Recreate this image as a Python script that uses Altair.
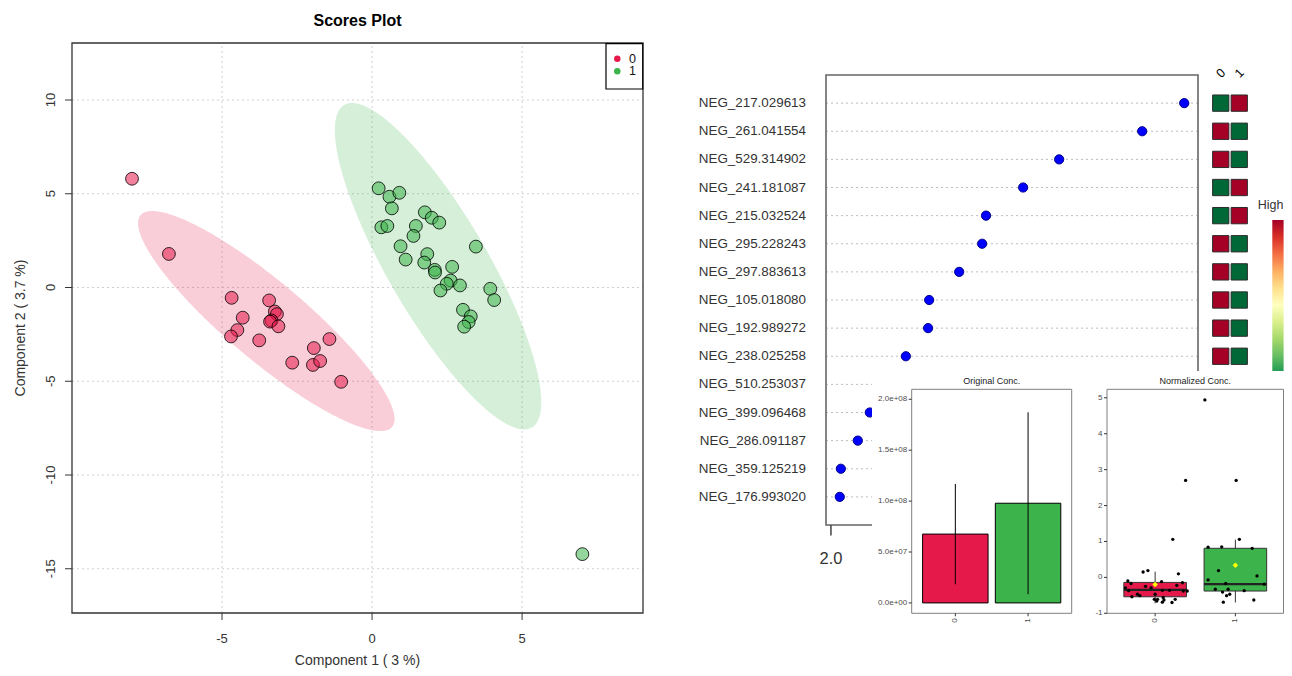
import numpy as np
import pandas as pd
import altair as alt

RED = "#E6194B"
GREEN = "#3CB44B"
FONT = "Liberation Sans"

# ---------------- data: scores plot ----------------
score_groups = ["0", "1"]
score0_x = [-8.00, -6.77, -4.68, -4.31, -4.49, -4.70, -3.76, -3.43, -3.24, -3.17,
            -3.35, -3.40, -3.12, -2.66, -1.94, -1.97, -1.73, -1.42, -1.03]
score0_y = [5.80, 1.79, -0.55, -1.61, -2.27, -2.61, -2.82, -0.69, -1.28, -1.42,
            -1.76, -1.82, -2.07, -4.01, -3.23, -4.13, -3.92, -2.75, -5.03]
score1_x = [0.22, 0.58, 0.91, 0.66, 0.31, 0.51, 1.76, 1.99, 2.24, 1.46,
            1.38, 0.95, 1.12, 3.46, 1.84, 1.74, 2.09, 2.10, 2.67, 2.62,
            2.49, 2.28, 2.93, 3.94, 4.07, 3.03, 3.29, 3.22, 3.07, 7.01]
score1_y = [5.29, 4.84, 5.05, 4.22, 3.21, 3.28, 4.01, 3.72, 3.46, 3.28,
            2.75, 2.20, 1.49, 2.18, 1.78, 1.33, 0.94, 0.80, 1.10, 0.37,
            0.20, -0.16, 0.11, -0.07, -0.67, -1.19, -1.54, -1.84, -2.09, -14.22]
# 95% confidence ellipses (centre, half extents, correlation)
ell_cx = [-3.525, 2.20]
ell_cy = [-1.79, 1.135]
ell_hx = [4.275, 3.44]
ell_hy = [5.87, 8.705]
ell_rho = [-0.889, -0.833]
score_ticks_x = [-5, 0, 5]
score_ticks_y = [-15, -10, -5, 0, 5, 10]

# ---------------- data: VIP scores ----------------
vip_features = ["NEG_217.029613", "NEG_261.041554", "NEG_529.314902", "NEG_241.181087",
                "NEG_215.032524", "NEG_295.228243", "NEG_297.883613", "NEG_105.018080",
                "NEG_192.989272", "NEG_238.025258", "NEG_510.253037", "NEG_399.096468",
                "NEG_286.091187", "NEG_359.125219", "NEG_176.993020"]
vip_scores = [3.000, 2.881, 2.646, 2.544, 2.439, 2.428, 2.363, 2.278, 2.275, 2.212,
              2.153, 2.110, 2.076, 2.028, 2.025]
vip_ticks = [2.0]
# 1 = group "0" high (red) / group "1" low (green)
heat_group0_high = [0, 1, 1, 0, 0, 1, 1, 1, 1, 1, 1, 1, 1, 1, 1]
heat_columns = ["0", "1"]
rdylgn = ["#a50026", "#d73027", "#f46d43", "#fdae61", "#fee08b", "#ffffbf",
          "#d9ef8b", "#a6d96a", "#66bd63", "#1a9850", "#006837"]

# ---------------- data: original concentration ----------------
conc_groups = ["0", "1"]
conc_mean = [6.76e7, 9.79e7]
conc_sd = [4.93e7, 8.93e7]
conc_ticks = [0, 5e7, 1e8, 1.5e8, 2e8]

# ---------------- data: normalized concentration ----------------
box_q1 = [-0.54, -0.38]
box_med = [-0.35, -0.19]
box_q3 = [-0.14, 0.81]
box_lo = [-0.72, -0.70]
box_hi = [0.16, 1.05]
box_mean = [-0.20, 0.34]
norm_ticks = [-1, 0, 1, 2, 3, 4, 5]
jit0_off = [-0.37, -0.34, -0.30, -0.33, -0.29, -0.22, -0.19, -0.15, -0.09, -0.12,
            -0.05, 0.00, -0.01, 0.03, 0.08, 0.09, 0.10, 0.11, 0.09, 0.18,
            0.22, 0.21, 0.25, 0.27, 0.29, 0.34, 0.35, 0.40, 0.38, 0.02]
jit0_val = [-0.29, -0.10, -0.17, -0.37, -0.54, -0.47, -0.51, 0.15, 0.19, -0.25,
            -0.29, -0.47, -0.61, -0.61, -0.12, -0.36, -0.56, -0.63, -0.69, -0.36,
            1.06, -0.70, -0.61, -0.22, 0.10, -0.15, -0.38, -0.38, 2.70, -0.66]
jit1_off = [-0.38, 0.01, 0.05, -0.34, -0.17, 0.21, -0.21, 0.27, -0.34, -0.12,
            0.36, -0.25, -0.09, -0.16, -0.07, -0.11, 0.11, -0.15, 0.23]
jit1_val = [4.94, 2.70, 1.06, 0.84, 0.85, 0.81, 0.19, 0.04, -0.07, -0.17,
            -0.19, -0.33, -0.33, -0.41, -0.47, -0.51, -0.37, -0.69, -0.63]

# ---------------- layout (pixels inside the chart) ----------------
W, H = 1276, 660
SC_XDOM, SC_XRNG = [-10.0, 9.03], [64, 635]
SC_YDOM, SC_YRNG = [-17.36, 13.04], [605, 35]
VIP_XDOM, VIP_XRNG = [1.986, 3.039], [818, 1190]
VIP_YDOM, VIP_YRNG = [0, 16], [517, 67]
HM_XDOM, HM_XRNG = [0, 2], [1203.5, 1240.5]
CB_XDOM, CB_XRNG = [0, 1], [1264.3, 1275.6]
CB_YDOM, CB_YRNG = [0, 1], [382, 212]
INSET = (864, 1276, 363, 660)
OC_XDOM, OC_XRNG = [-0.6, 1.6], [903.7, 1063.7]
OC_YDOM, OC_YRNG = [-1.0196e7, 2.098e8], [605.3, 381.3]
NC_XDOM, NC_XRNG = [-0.6, 1.6], [1099, 1275.5]
NC_YDOM, NC_YRNG = [-1.0, 5.237], [605.3, 381.3]


def S(dom, rng):
    return alt.Scale(domain=list(dom), range=list(rng), nice=False, zero=False)


def inv(p, dom, rng):
    """pixel -> data value on a panel scale (for placing guide text)."""
    return dom[0] + (p - rng[0]) * (dom[1] - dom[0]) / (rng[1] - rng[0])


def X(f, s):
    return alt.X(f, scale=s, axis=None)


def Y(f, s):
    return alt.Y(f, scale=s, axis=None)


def frame(xdom, ydom, sx, sy, color, width):
    df = pd.DataFrame({"x0": [xdom[0]], "x1": [xdom[1]], "y0": [ydom[0]], "y1": [ydom[1]]})
    return alt.Chart(df).mark_rect(fill="transparent", stroke=color, strokeWidth=width).encode(
        x=X("x0:Q", sx), x2="x1:Q", y=Y("y0:Q", sy), y2="y1:Q")


def vticks(vals, y0, y1, sx, sy, **mk):
    df = pd.DataFrame({"v": vals, "a": y0, "b": y1})
    return alt.Chart(df).mark_rule(**mk).encode(x=X("v:Q", sx), y=Y("a:Q", sy), y2="b:Q")


def hticks(vals, x0, x1, sx, sy, **mk):
    df = pd.DataFrame({"v": vals, "a": x0, "b": x1})
    return alt.Chart(df).mark_rule(**mk).encode(y=Y("v:Q", sy), x=X("a:Q", sx), x2="b:Q")


def texts(xs, ys, labels, sx, sy, **mk):
    df = pd.DataFrame({"x": xs, "y": ys, "t": labels})
    return alt.Chart(df).mark_text(**mk).encode(x=X("x:Q", sx), y=Y("y:Q", sy), text="t:N")


# ================= Scores plot =================
sx, sy = S(SC_XDOM, SC_XRNG), S(SC_YDOM, SC_YRNG)
grp_scale = alt.Scale(domain=score_groups, range=[RED, GREEN])
grid_style = dict(color="#cfcfcf", strokeDash=[2, 3], strokeWidth=1)
vgrid = vticks(score_ticks_x, SC_YDOM[0], SC_YDOM[1], sx, sy, **grid_style)
hgrid = hticks(score_ticks_y, SC_XDOM[0], SC_XDOM[1], sx, sy, **grid_style)

ell_rows = []
theta = np.linspace(np.pi, 0, 241)
for g, cx, cy, hx, hy, r in zip(score_groups, ell_cx, ell_cy, ell_hx, ell_hy, ell_rho):
    u = np.cos(theta)
    s = np.sqrt(np.clip(1 - u * u, 0, None))
    k = np.sqrt(1 - r * r)
    for ui, si in zip(u, s):
        ell_rows.append({"grp": g, "x": cx + hx * ui,
                         "ylo": cy + hy * (r * ui - k * si),
                         "yhi": cy + hy * (r * ui + k * si)})
ellipses = alt.Chart(pd.DataFrame(ell_rows)).mark_area(opacity=0.21).encode(
    x=X("x:Q", sx), y=alt.Y("ylo:Q", scale=sy, axis=None, stack=None), y2="yhi:Q",
    color=alt.Color("grp:N", scale=grp_scale, legend=None))

df_scores = pd.DataFrame({
    "grp": ["0"] * len(score0_x) + ["1"] * len(score1_x),
    "x": score0_x + score1_x, "y": score0_y + score1_y})
points = alt.Chart(df_scores).mark_point(
    filled=True, size=165, stroke="black", strokeWidth=1, fillOpacity=0.55, strokeOpacity=0.8
).encode(x=X("x:Q", sx), y=Y("y:Q", sy),
         color=alt.Color("grp:N", scale=grp_scale, legend=None))

ink = "#333333"
sc_guides = [
    vticks(score_ticks_x, SC_YDOM[0], inv(612, SC_YDOM, SC_YRNG), sx, sy, color=ink, strokeWidth=1),
    hticks(score_ticks_y, SC_XDOM[0], inv(57, SC_XDOM, SC_XRNG), sx, sy, color=ink, strokeWidth=1),
    texts(score_ticks_x, inv(630.7, SC_YDOM, SC_YRNG), [str(v) for v in score_ticks_x], sx, sy,
          font=FONT, fontSize=13, color=ink, align="center", baseline="middle"),
    texts(inv(42.7, SC_XDOM, SC_XRNG), score_ticks_y, [str(v) for v in score_ticks_y], sx, sy,
          font=FONT, fontSize=13, color=ink, align="center", baseline="middle", angle=270),
    texts([sum(SC_XDOM) / 2], [inv(657, SC_YDOM, SC_YRNG)], ["Component 1 ( 3 %)"], sx, sy,
          font=FONT, fontSize=14, color=ink, align="center", baseline="alphabetic"),
    texts([inv(12.8, SC_XDOM, SC_XRNG)], [sum(SC_YDOM) / 2], ["Component 2 ( 3.7 %)"], sx, sy,
          font=FONT, fontSize=14, color=ink, align="center", baseline="middle", angle=270),
    texts([sum(SC_XDOM) / 2], [inv(12.8, SC_YDOM, SC_YRNG)], ["Scores Plot"], sx, sy,
          font=FONT, fontSize=16, fontWeight="bold", color="black", align="center", baseline="middle"),
]
# legend box
lg_box = pd.DataFrame({"x0": [inv(598, SC_XDOM, SC_XRNG)], "x1": [inv(634.7, SC_XDOM, SC_XRNG)],
                       "y0": [inv(81, SC_YDOM, SC_YRNG)], "y1": [inv(35.7, SC_YDOM, SC_YRNG)]})
legend_box = alt.Chart(lg_box).mark_rect(fill="white", stroke="black", strokeWidth=1.2).encode(
    x=X("x0:Q", sx), x2="x1:Q", y=Y("y0:Q", sy), y2="y1:Q")
lg_y = [inv(50.7, SC_YDOM, SC_YRNG), inv(63.3, SC_YDOM, SC_YRNG)]
legend_dots = alt.Chart(pd.DataFrame({"grp": score_groups, "x": inv(609.3, SC_XDOM, SC_XRNG),
                                      "y": lg_y})).mark_circle(size=42, opacity=1).encode(
    x=X("x:Q", sx), y=Y("y:Q", sy), color=alt.Color("grp:N", scale=grp_scale, legend=None))
legend_txt = texts(inv(621, SC_XDOM, SC_XRNG), lg_y, score_groups, sx, sy,
                   font=FONT, fontSize=12.5, color="#111", align="left", baseline="middle")

scores = alt.layer(vgrid, hgrid, ellipses, points, frame(SC_XDOM, SC_YDOM, sx, sy, "#333", 1.3),
                   *sc_guides, legend_box, legend_dots, legend_txt)

# ================= VIP dot plot =================
vx, vy = S(VIP_XDOM, VIP_XRNG), S(VIP_YDOM, VIP_YRNG)
n = len(vip_features)
vip_rows = [n - i for i in range(n)]
df_vip = pd.DataFrame({"feature": vip_features, "vip": vip_scores, "row": vip_rows,
                       "lo": VIP_XDOM[0], "hi": VIP_XDOM[1]})
vip_lines = alt.Chart(df_vip).mark_rule(color="#bdbdbd", strokeDash=[2, 3], strokeWidth=1).encode(
    x=X("lo:Q", vx), x2="hi:Q", y=Y("row:Q", vy))
vip_pts = alt.Chart(df_vip).mark_point(filled=True, size=85, fill="#0000ff", stroke="#00008b",
                                       strokeWidth=1, opacity=1).encode(
    x=X("vip:Q", vx), y=Y("row:Q", vy))
vip_labels = alt.Chart(df_vip).mark_text(font=FONT, fontSize=13.4, color=ink, align="right",
                                          baseline="middle", dx=-20).encode(
    x=X("lo:Q", vx), y=Y("row:Q", vy), text="feature:N")
vip_xt = vticks(vip_ticks, VIP_YDOM[0], inv(527.5, VIP_YDOM, VIP_YRNG), vx, vy,
                color="#444", strokeWidth=1.5)
vip_xl = texts(vip_ticks, inv(550.8, VIP_YDOM, VIP_YRNG), [f"{v:.1f}" for v in vip_ticks], vx, vy,
               font=FONT, fontSize=16.5, color=ink, align="center", baseline="middle")
vip = alt.layer(vip_lines, frame(VIP_XDOM, VIP_YDOM, vx, vy, "#666", 1.6), vip_pts,
                vip_labels, vip_xt, vip_xl)

# ================= heatmap tiles =================
hx_s, hy_s = S(HM_XDOM, HM_XRNG), S(VIP_YDOM, VIP_YRNG)
tile_rows = []
for row, hi0 in zip(vip_rows, heat_group0_high):
    for c, col in enumerate(heat_columns):
        high = (hi0 == 1) if c == 0 else (hi0 == 0)
        tile_rows.append({"col": col, "x0": c + 0.06, "x1": c + 0.94,
                          "y0": row - 0.29, "y1": row + 0.29,
                          "level": "High" if high else "Low"})
tiles = alt.Chart(pd.DataFrame(tile_rows)).mark_rect(stroke="#2b2b2b", strokeWidth=1).encode(
    x=X("x0:Q", hx_s), x2="x1:Q", y=Y("y0:Q", hy_s), y2="y1:Q",
    color=alt.Color("level:N", scale=alt.Scale(domain=["High", "Low"], range=[rdylgn[0], rdylgn[-1]]),
                    legend=None))
col_lab = texts([c + 0.5 for c in range(len(heat_columns))], inv(65.3, VIP_YDOM, VIP_YRNG),
                heat_columns, hx_s, hy_s, angle=315, font=FONT, fontSize=12.5, color="black",
                align="center", baseline="middle")
heat = alt.layer(tiles, col_lab)

# ================= colour key =================
cbx, cby = S(CB_XDOM, CB_XRNG), S(CB_YDOM, CB_YRNG)
grad = alt.LinearGradient(gradient="linear",
                          stops=[alt.GradientStop(color=c, offset=i / (len(rdylgn) - 1))
                                 for i, c in enumerate(rdylgn)],
                          x1=0, x2=0, y1=0, y2=1)
cbar_rect = alt.Chart(pd.DataFrame({"x0": [0], "x1": [1], "y0": [0], "y1": [1]})).mark_rect(fill=grad).encode(
    x=X("x0:Q", cbx), x2="x1:Q", y=Y("y0:Q", cby), y2="y1:Q")
cbar_txt = texts([inv(1275.5, CB_XDOM, CB_XRNG)], [inv(197, CB_YDOM, CB_YRNG)], ["High"], cbx, cby,
                 font=FONT, fontSize=12.5, color=ink, align="right", baseline="middle")
cbar = alt.layer(cbar_rect, cbar_txt)

# ================= inset background =================
inset_bg = alt.Chart(pd.DataFrame({"k": [0]})).mark_rect(fill="white").encode(
    x=alt.value(INSET[0]), x2=alt.value(INSET[1]), y=alt.value(INSET[2]), y2=alt.value(INSET[3]))

small_txt = dict(font=FONT, fontSize=8, color="#4d4d4d")
tick_mk = dict(color="#333", strokeWidth=1)

# ================= Original Conc. =================
ox, oy = S(OC_XDOM, OC_XRNG), S(OC_YDOM, OC_YRNG)
df_conc = pd.DataFrame({"grp": conc_groups, "g": [0, 1], "mean": conc_mean,
                        "lo": [m - s for m, s in zip(conc_mean, conc_sd)],
                        "hi": [m + s for m, s in zip(conc_mean, conc_sd)],
                        "x0": [-0.45, 0.55], "x1": [0.45, 1.45], "zero": 0})
bars = alt.Chart(df_conc).mark_rect(stroke="black", strokeWidth=1).encode(
    x=X("x0:Q", ox), x2="x1:Q", y=Y("zero:Q", oy), y2="mean:Q",
    color=alt.Color("grp:N", scale=alt.Scale(domain=conc_groups, range=[RED, GREEN]), legend=None))
errs = alt.Chart(df_conc).mark_rule(color="black", strokeWidth=1).encode(
    x=X("g:Q", ox), y=Y("lo:Q", oy), y2="hi:Q")
oc_guides = [
    hticks(conc_ticks, OC_XDOM[0], inv(OC_XRNG[0] - 3, OC_XDOM, OC_XRNG), ox, oy, **tick_mk),
    texts(inv(OC_XRNG[0] - 4.5, OC_XDOM, OC_XRNG), conc_ticks, [f"{v:.1e}" for v in conc_ticks],
          ox, oy, align="right", baseline="middle", **small_txt),
    vticks([0, 1], OC_YDOM[0], inv(OC_YRNG[0] + 3, OC_YDOM, OC_YRNG), ox, oy, **tick_mk),
    texts([0, 1], inv(OC_YRNG[0] + 5, OC_YDOM, OC_YRNG), conc_groups, ox, oy,
          align="right", baseline="middle", angle=270, **small_txt),
    texts([0.5], [inv(372.7, OC_YDOM, OC_YRNG)], ["Original Conc."], ox, oy,
          font=FONT, fontSize=9, color="#1a1a1a", align="center", baseline="middle"),
]
orig = alt.layer(bars, errs, frame(OC_XDOM, OC_YDOM, ox, oy, "#7f7f7f", 1), *oc_guides)

# ================= Normalized Conc. =================
nx, ny = S(NC_XDOM, NC_XRNG), S(NC_YDOM, NC_YRNG)
df_box = pd.DataFrame({"grp": conc_groups, "g": [0, 1], "q1": box_q1, "med": box_med,
                       "q3": box_q3, "lo": box_lo, "hi": box_hi, "mean": box_mean,
                       "x0": [-0.39, 0.61], "x1": [0.39, 1.39]})
df_jit = pd.DataFrame({"x": [0 + o for o in jit0_off] + [1 + o for o in jit1_off],
                       "v": jit0_val + jit1_val})
whisk = alt.Chart(df_box).mark_rule(color="#333", strokeWidth=1).encode(
    x=X("g:Q", nx), y=Y("lo:Q", ny), y2="hi:Q")
boxes = alt.Chart(df_box).mark_rect(stroke="#333", strokeWidth=1).encode(
    x=X("x0:Q", nx), x2="x1:Q", y=Y("q1:Q", ny), y2="q3:Q",
    color=alt.Color("grp:N", scale=alt.Scale(domain=conc_groups, range=[RED, GREEN]), legend=None))
medians = alt.Chart(df_box).mark_rule(color="#222", strokeWidth=2.2).encode(
    x=X("x0:Q", nx), x2="x1:Q", y=Y("med:Q", ny))
jit = alt.Chart(df_jit).mark_circle(size=11, color="black", opacity=1).encode(
    x=X("x:Q", nx), y=Y("v:Q", ny))
means = alt.Chart(df_box).mark_point(shape="diamond", filled=True, size=30, fill="#ffff00",
                                     strokeWidth=0, opacity=1).encode(
    x=X("g:Q", nx), y=Y("mean:Q", ny))
nc_guides = [
    hticks(norm_ticks, NC_XDOM[0], inv(NC_XRNG[0] - 3, NC_XDOM, NC_XRNG), nx, ny, **tick_mk),
    texts(inv(NC_XRNG[0] - 4.5, NC_XDOM, NC_XRNG), norm_ticks, [str(v) for v in norm_ticks],
          nx, ny, align="right", baseline="middle", **small_txt),
    vticks([0, 1], NC_YDOM[0], inv(NC_YRNG[0] + 3, NC_YDOM, NC_YRNG), nx, ny, **tick_mk),
    texts([0, 1], inv(NC_YRNG[0] + 5, NC_YDOM, NC_YRNG), conc_groups, nx, ny,
          align="right", baseline="middle", angle=270, **small_txt),
    texts([0.5], [inv(372.7, NC_YDOM, NC_YRNG)], ["Normalized Conc."], nx, ny,
          font=FONT, fontSize=9, color="#1a1a1a", align="center", baseline="middle"),
]
norm = alt.layer(whisk, boxes, medians, jit, means,
                 frame(NC_XDOM, NC_YDOM, nx, ny, "#7f7f7f", 1), *nc_guides)

# ================= assemble =================
chart = alt.layer(scores, vip, heat, cbar, inset_bg, orig, norm).resolve_scale(
    x="independent", y="independent", color="independent"
).properties(
    width=W, height=H, padding=0, background="white",
    autosize=alt.AutoSizeParams(type="none"),
).configure_view(strokeWidth=0)

chart.save("out.html", embed_options={"renderer": "svg", "actions": False})
